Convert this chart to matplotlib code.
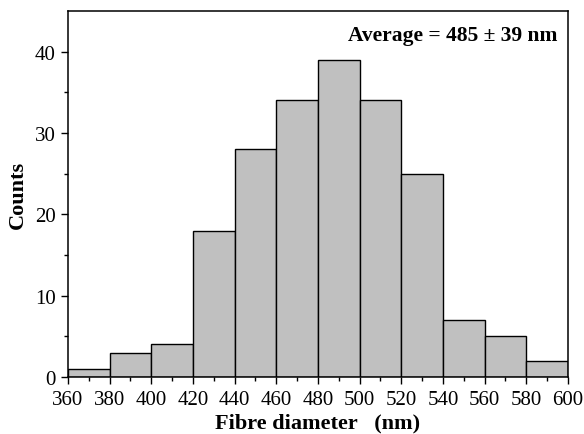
import numpy as np
import matplotlib.pyplot as plt

plt.rcParams['font.family'] = ['Liberation Serif', 'DejaVu Serif']

# histogram bins (nm) and counts
bin_edges = [360, 380, 400, 420, 440, 460, 480, 500, 520, 540, 560, 580, 600]
counts = [1, 3, 4, 18, 28, 34, 39, 34, 25, 7, 5, 2]
x_ticks = [360, 380, 400, 420, 440, 460, 480, 500, 520, 540, 560, 580, 600]
y_ticks = [0, 10, 20, 30, 40]

fig = plt.figure(figsize=(5.84, 4.35), dpi=100)
ax = fig.add_axes([0.1164, 0.131, 0.8562, 0.8414])

left = np.array(bin_edges[:-1])
widths = np.diff(bin_edges)
ax.bar(left, counts, width=widths, align='edge', color='#c0c0c0',
       edgecolor='black', linewidth=1.0)

ax.set_xlim(360, 600)
ax.set_ylim(0, 45)
ax.set_xticks(x_ticks)
ax.set_yticks(y_ticks)
ax.set_xticks(np.arange(370, 600, 20), minor=True)
ax.set_yticks(np.arange(5, 45, 10), minor=True)
ax.tick_params(which='major', direction='out', length=5, width=1,
               labelsize=15, pad=4, top=False, right=False)
ax.tick_params(which='minor', direction='out', length=3, width=1,
               top=False, right=False)
for s in ax.spines.values():
    s.set_linewidth(1.1)

ax.set_xlabel('Fibre diameter   (nm)', fontsize=16, fontweight='bold', labelpad=3)
ax.set_ylabel('Counts', fontsize=16, fontweight='bold', labelpad=5)

ax.text(0.978, 0.935, 'Average = 485 \u00b1 39 nm', transform=ax.transAxes,
        ha='right', va='center', fontsize=15.5, fontweight='bold')

fig.savefig('out.png', dpi=100)
